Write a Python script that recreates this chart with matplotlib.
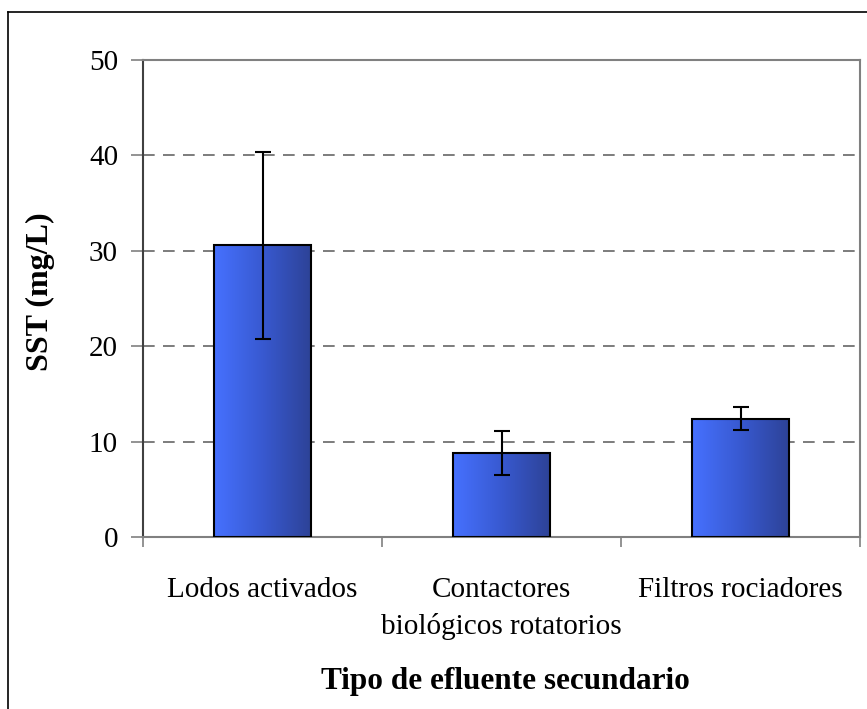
import matplotlib
matplotlib.use("Agg")
import matplotlib.pyplot as plt
import numpy as np
from matplotlib.colors import LinearSegmentedColormap
from matplotlib.lines import Line2D

categories = ["Lodos activados", "Contactores\nbiológicos rotatorios", "Filtros rociadores"]
values = [30.6, 8.8, 12.4]
errors = [9.8, 2.35, 1.2]
yticks = [0, 10, 20, 30, 40, 50]

plt.rcParams['font.family'] = ['Liberation Serif', 'DejaVu Serif']

fig = plt.figure(figsize=(8.67, 7.09), dpi=100)
ax = fig.add_axes([143/867, 1-537/709, (860-143)/867, (537-60)/709])

x = np.arange(len(categories)) + 0.5
bars = ax.bar(x, values, width=0.41, color='none', edgecolor='black', linewidth=1.5, zorder=3)

cmap = LinearSegmentedColormap.from_list('g', ['#4671ff', '#3859d0', '#2d4296'])
grad = np.linspace(0, 1, 256).reshape(1, -1)
for b in bars:
    x0, y0 = b.get_x(), b.get_y()
    w, h = b.get_width(), b.get_height()
    im = ax.imshow(grad, cmap=cmap, aspect='auto', extent=[x0, x0 + w, y0, y0 + h], zorder=2)
    im.set_clip_path(b)

ax.errorbar(x, values, yerr=errors, fmt='none', ecolor='black', elinewidth=1.5,
            capsize=5.5, capthick=1.5, zorder=4)

ax.set_xlim(0, 3)
ax.set_ylim(0, 50)
ax.set_yticks(yticks)
ax.set_xticks([0, 1, 2, 3])
ax.set_xticklabels([])
ax.set_xticks(x, minor=True)
ax.set_xticklabels(categories, minor=True, fontsize=21, linespacing=1.45)
ax.tick_params(axis='x', which='minor', length=0, pad=29)
ax.tick_params(axis='x', which='major', length=7.5, color='#808080', width=1.2, direction='out')
ax.tick_params(axis='y', length=8.5, color='#808080', width=1.2, direction='out', labelsize=21, pad=9.5)

for ys in yticks[1:-1]:
    ax.axhline(ys, color='#666666', linestyle=(0, (7, 5)), linewidth=1.2, zorder=1)

for s in ax.spines.values():
    s.set_color('#808080')
    s.set_linewidth(1.5)
ax.spines['left'].set_color('#404040')

ax.set_ylabel('SST (mg/L)', fontsize=23, fontweight='bold')
ax.yaxis.set_label_coords(-0.123, 0.515)
ax.set_xlabel('Tipo de efluente secundario', fontsize=22.5, fontweight='bold')
ax.xaxis.set_label_coords(0.505, -0.272)

fig.add_artist(Line2D([8/867, 8/867], [0, 1-12/709], transform=fig.transFigure, color='black', linewidth=1.2))
fig.add_artist(Line2D([8/867, 1], [1-12/709, 1-12/709], transform=fig.transFigure, color='black', linewidth=1.2))

fig.savefig('out.png', dpi=100)
